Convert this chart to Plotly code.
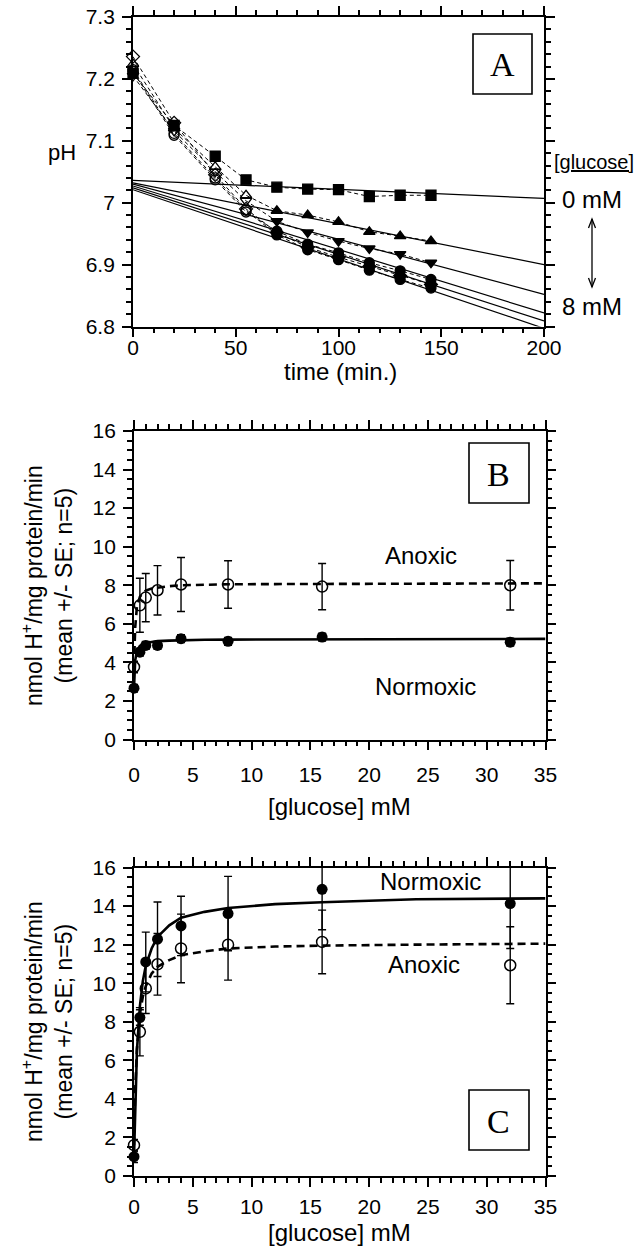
import plotly.graph_objects as go

W, H = 639, 1247

# ---------------- data ----------------
# Panel A: pH vs time for several glucose concentrations
time_min = [0, 20, 40, 55, 70, 85, 100, 115, 130, 145]
ph_square = [7.209, 7.125, 7.075, 7.037, 7.025, 7.022, 7.021, 7.010, 7.012, 7.012]
ph_tri_up = [7.224, 7.120, 7.058, 7.012, 6.987, 6.980, 6.969, 6.953, 6.946, 6.938]
ph_tri_dn = [7.205, 7.116, 7.050, 7.003, 6.970, 6.952, 6.938, 6.926, 6.917, 6.903]
ph_circle = [7.212, 7.109, 7.037, 6.985, 6.954, 6.933, 6.919, 6.903, 6.890, 6.876]
ph_diamond = [7.236, 7.129, 7.045, 6.990, 6.952, 6.928, 6.912, 6.897, 6.882, 6.868]
ph_circle2 = [7.215, 7.112, 7.040, 6.988, 6.948, 6.924, 6.908, 6.891, 6.876, 6.862]
n_open = [0, 4, 4, 4, 4, 4]  # leading open (pre-steady-state) points per series

# Panel A regression lines (value at t=0 and t=200)
fit_t = [0, 200]
fit_ph_start = [7.036, 7.032, 7.030, 7.027, 7.024, 7.021]
fit_ph_end = [7.007, 6.900, 6.852, 6.822, 6.809, 6.797]

# Panels B and C
glucose_mM = [0, 0.5, 1, 2, 4, 8, 16, 32]
B_normoxic = [2.66, 4.53, 4.88, 4.88, 5.23, 5.09, 5.31, 5.05]
B_normoxic_se = [0.2, 0.2, 0.2, 0.2, 0.2, 0.2, 0.2, 0.2]
B_anoxic = [3.76, 6.96, 7.36, 7.74, 8.04, 8.04, 7.93, 8.00]
B_anoxic_se = [0.3, 1.40, 1.25, 1.28, 1.40, 1.23, 1.20, 1.28]

C_normoxic = [1.00, 8.22, 11.10, 12.28, 12.97, 13.61, 14.87, 14.13]
C_normoxic_se = [0.3, 0.4, 1.55, 1.93, 1.54, 1.93, 2.10, 2.33]
C_anoxic = [1.60, 7.48, 9.73, 10.98, 11.80, 12.00, 12.14, 10.93]
C_anoxic_se = [0.3, 1.25, 1.30, 1.60, 1.78, 1.84, 1.65, 2.00]

# fitted saturation curves
curve_x = [0, 0.1, 0.25, 0.5, 0.75, 1, 1.5, 2, 3, 4, 6, 8, 12, 16, 24, 35]
B_normoxic_fit = [2.66, 4.1, 4.6, 4.85, 4.95, 5.0, 5.06, 5.1, 5.13, 5.15, 5.17, 5.18, 5.19, 5.2, 5.21, 5.22]
B_anoxic_fit = [3.76, 5.8, 6.9, 7.4, 7.6, 7.72, 7.83, 7.88, 7.95, 8.0, 8.03, 8.05, 8.06, 8.07, 8.08, 8.1]
C_normoxic_fit = [1.0, 3.9, 6.5, 8.8, 10.1, 10.9, 11.8, 12.4, 13.0, 13.4, 13.7, 13.9, 14.1, 14.2, 14.35, 14.4]
C_anoxic_fit = [1.6, 4.4, 6.6, 8.4, 9.3, 9.85, 10.5, 10.85, 11.2, 11.45, 11.65, 11.8, 11.9, 11.95, 12.0, 12.05]

# tick settings (first tick, last tick, major step, minor step) and major tick labels
A_xticks = [0, 200, 50, 10]
A_xtick_labels = ["0", "50", "100", "150", "200"]
A_yticks = [6.8, 7.3, 0.1, 0.02]
A_ytick_labels = ["6.8", "6.9", "7", "7.1", "7.2", "7.3"]
BC_xticks = [0, 35, 5, 1]
BC_xtick_labels = ["0", "5", "10", "15", "20", "25", "30", "35"]
BC_yticks = [0, 16, 2, 0.5]
BC_ytick_labels = ["0", "2", "4", "6", "8", "10", "12", "14", "16"]

# ---------------- helpers ----------------
SANS = "Liberation Sans, Arial, sans-serif"
SERIF = "Liberation Serif, Times New Roman, serif"
TICKF = dict(family=SANS, size=21, color="black")


def px(x, y):
    return x / W, 1 - y / H


fig = go.Figure()

# ---------------- panel A ----------------
series_A = [
    (ph_square, "square"),
    (ph_tri_up, "triangle-up"),
    (ph_tri_dn, "triangle-down"),
    (ph_circle, "circle"),
    (ph_diamond, "diamond"),
    (ph_circle2, "circle"),
]
for i in range(len(series_A)):
    fig.add_trace(go.Scatter(
        x=fit_t, y=[fit_ph_start[i], fit_ph_end[i]], mode="lines",
        line=dict(color="black", width=1.2), xaxis="x", yaxis="y",
        hoverinfo="skip"))
for i, (vals, sym) in enumerate(series_A):
    syms = [sym + "-open" if k < n_open[i] else sym for k in range(len(vals))]
    fig.add_trace(go.Scatter(
        x=time_min, y=vals, mode="lines+markers",
        line=dict(color="black", width=1, dash="4px,3px"),
        marker=dict(symbol=syms, size=10, color="black",
                    line=dict(color="black", width=1.3)),
        cliponaxis=False, xaxis="x", yaxis="y"))


# ---------------- panels B and C ----------------
def add_panel(xa, ya, norm, norm_se, anox, anox_se, norm_fit, anox_fit):
    fig.add_trace(go.Scatter(x=curve_x, y=anox_fit, mode="lines",
                             line=dict(color="black", width=2.6, dash="8px,5px"),
                             xaxis=xa, yaxis=ya, hoverinfo="skip"))
    fig.add_trace(go.Scatter(x=curve_x, y=norm_fit, mode="lines",
                             line=dict(color="black", width=2.6),
                             xaxis=xa, yaxis=ya, hoverinfo="skip"))
    for vals, se in ((anox, anox_se), (norm, norm_se)):
        fig.add_trace(go.Scatter(
            x=glucose_mM, y=vals, mode="markers",
            marker=dict(size=1, opacity=0),
            error_y=dict(type="data", array=se, visible=True, color="black",
                         thickness=1.4, width=4),
            cliponaxis=True, xaxis=xa, yaxis=ya, hoverinfo="skip"))
    fig.add_trace(go.Scatter(
        x=glucose_mM, y=anox, mode="markers",
        marker=dict(symbol="circle-open", size=11, color="black",
                    line=dict(color="black", width=1.5)),
        cliponaxis=False, xaxis=xa, yaxis=ya))
    fig.add_trace(go.Scatter(
        x=glucose_mM, y=norm, mode="markers",
        marker=dict(symbol="circle", size=11, color="black"),
        cliponaxis=False, xaxis=xa, yaxis=ya))


add_panel("x2", "y2", B_normoxic, B_normoxic_se, B_anoxic, B_anoxic_se,
          B_normoxic_fit, B_anoxic_fit)
add_panel("x3", "y3", C_normoxic, C_normoxic_se, C_anoxic, C_anoxic_se,
          C_normoxic_fit, C_anoxic_fit)


# ---------------- axes ----------------
def all_ticks(ticks, labels):
    """every tick position (minor spacing); only the major ones carry a label"""
    t0, t1, major, minor = ticks
    n = int(round((t1 - t0) / minor))
    step = int(round(major / minor))
    vals, text = [], []
    for k in range(n + 1):
        vals.append(round(t0 + k * minor, 6))
        text.append(labels[k // step] if k % step == 0 else "")
    return vals, text


def axis(domain, ticks, labels, anchor, standoff=0):
    vals, text = all_ticks(ticks, labels)
    return dict(
        domain=domain, range=[ticks[0], ticks[1]], anchor=anchor,
        showline=True, linecolor="black", linewidth=1.8, mirror="allticks",
        ticks="outside", ticklen=5, tickwidth=2, tickcolor="black",
        tickmode="array", tickvals=vals, ticktext=text, ticklabelstandoff=standoff,
        tickfont=TICKF, showgrid=False, zeroline=False,
    )


def major_axis(ticks, overlay, anchor):
    t0, t1, major, minor = ticks
    n = int(round((t1 - t0) / major))
    return dict(
        overlaying=overlay, anchor=anchor, range=[t0, t1],
        showline=True, linecolor="black", linewidth=1.8, mirror="allticks",
        ticks="outside", ticklen=9, tickwidth=2, tickcolor="black",
        tickmode="array", tickvals=[round(t0 + k * major, 6) for k in range(n + 1)],
        showticklabels=False, showgrid=False, zeroline=False,
    )


xA = [133 / W, 544 / W]
xBC = [134 / W, 545.5 / W]
yA = [1 - 326.5 / H, 1 - 17 / H]
yB = [1 - 739.5 / H, 1 - 431 / H]
yC = [1 - 1176 / H, 1 - 867.5 / H]

fig.update_layout(
    width=W, height=H, margin=dict(l=0, r=0, t=0, b=0, autoexpand=False),
    paper_bgcolor="white", plot_bgcolor="white", showlegend=False,
    xaxis=axis(xA, A_xticks, A_xtick_labels, "y", -4),
    yaxis=axis(yA, A_yticks, A_ytick_labels, "x", 7),
    xaxis2=axis(xBC, BC_xticks, BC_xtick_labels, "y2", 10),
    yaxis2=axis(yB, BC_yticks, BC_ytick_labels, "x2", 7),
    xaxis3=axis(xBC, BC_xticks, BC_xtick_labels, "y3", 6),
    yaxis3=axis(yC, BC_yticks, BC_ytick_labels, "x3", 7),
    # overlay axes that carry the longer major ticks
    xaxis4=major_axis(A_xticks, "x", "y4"),
    yaxis4=major_axis(A_yticks, "y", "x4"),
    xaxis5=major_axis(BC_xticks, "x2", "y5"),
    yaxis5=major_axis(BC_yticks, "y2", "x5"),
    xaxis6=major_axis(BC_xticks, "x3", "y6"),
    yaxis6=major_axis(BC_yticks, "y3", "x6"),
)
for k, xt, yt in ((4, A_xticks, A_yticks), (5, BC_xticks, BC_yticks), (6, BC_xticks, BC_yticks)):
    fig.add_trace(go.Scatter(x=[xt[0], xt[1]], y=[yt[0], yt[1]], mode="markers",
                             marker=dict(size=1, opacity=0), xaxis=f"x{k}", yaxis=f"y{k}",
                             hoverinfo="skip"))

ann = []
shapes = []


def text_px(x, y, s, size=24, family=SANS, angle=0):
    X, Y = px(x, y)
    ann.append(dict(xref="paper", yref="paper", x=X, y=Y, text=s, showarrow=False,
                    xanchor="center", yanchor="middle", textangle=angle,
                    font=dict(family=family, size=size, color="black")))


def path_px(points):
    parts = []
    for k, (x, y) in enumerate(points):
        X, Y = px(x, y)
        parts.append(("M" if k == 0 else "L") + f"{X:.5f},{Y:.5f}")
    shapes.append(dict(type="path", xref="paper", yref="paper", path=" ".join(parts),
                       line=dict(color="black", width=1.3)))


# panel A texts
text_px(62, 152, "pH", 22)
text_px(340, 372, "time (min.)", 24)
text_px(594, 162, "<u>[glucose]</u>", 20)
text_px(592, 199, "0 mM", 24)
text_px(592, 307, "8 mM", 24)
# double-headed arrow between 0 mM and 8 mM
path_px([(592, 219), (592, 287)])
path_px([(588.5, 228), (592, 219), (595.5, 228)])
path_px([(588.5, 278), (592, 287), (595.5, 278)])

# axis titles for B and C
ytitle = "nmol H<sup>+</sup>/mg protein/min<br>(mean +/- SE; n=5)"
text_px(47, 586, ytitle, 23, angle=-90)
text_px(47, 1022, ytitle, 23, angle=-90)
text_px(339, 806, "[glucose] mM", 24)
text_px(339, 1232, "[glucose] mM", 24)

# series labels
ann.append(dict(xref="x2", yref="y2", x=24.4, y=9.56, text="Anoxic", showarrow=False,
                font=dict(family=SANS, size=24, color="black")))
ann.append(dict(xref="x2", yref="y2", x=24.8, y=2.75, text="Normoxic", showarrow=False,
                font=dict(family=SANS, size=24, color="black")))
ann.append(dict(xref="x3", yref="y3", x=25.2, y=15.25, text="Normoxic", showarrow=False,
                font=dict(family=SANS, size=24, color="black")))
ann.append(dict(xref="x3", yref="y3", x=24.7, y=10.98, text="Anoxic", showarrow=False,
                font=dict(family=SANS, size=24, color="black")))

# panel letter boxes
for (x0, y0, x1, y1, letter) in [(473, 34, 532, 94, "A"), (469, 443, 529, 503, "B"),
                                 (469, 1090, 529, 1150, "C")]:
    X0, Y0 = px(x0, y0)
    X1, Y1 = px(x1, y1)
    shapes.append(dict(type="rect", xref="paper", yref="paper", x0=X0, y0=Y1, x1=X1, y1=Y0,
                       line=dict(color="black", width=1.6), fillcolor="rgba(0,0,0,0)"))
    text_px((x0 + x1) / 2, (y0 + y1) / 2 + 1, letter, 34, family=SERIF)

fig.update_layout(annotations=ann, shapes=shapes)
fig.write_html(
    "out.html",
    post_script="document.body.style.margin='0';document.body.style.overflow='hidden';",
)
